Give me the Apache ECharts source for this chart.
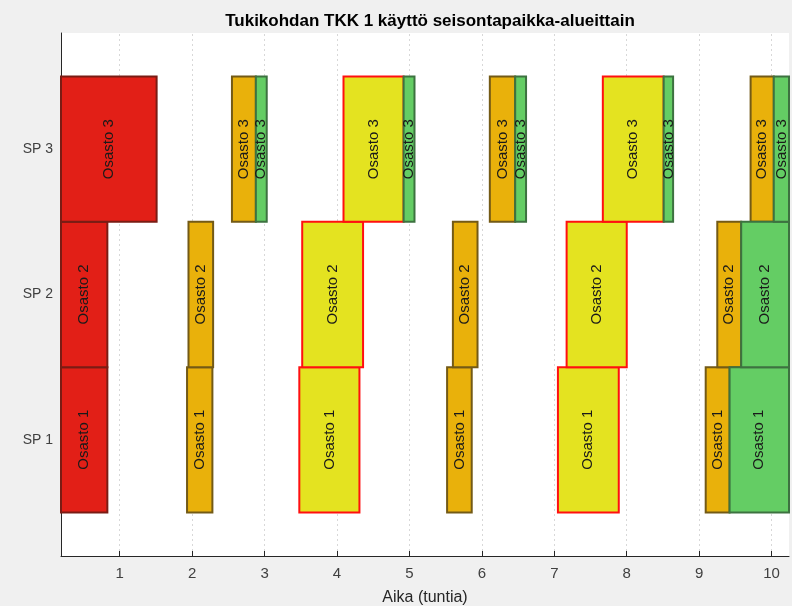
<!DOCTYPE html>
<html>
<head>
<meta charset="utf-8">
<script src="https://cdn.jsdelivr.net/npm/echarts@6/dist/echarts.min.js"></script>
<style>
  html, body { margin: 0; padding: 0; background: #f0f0f0; }
  #chart { width: 792px; height: 606px; }
</style>
</head>
<body>
<div id="chart"></div>
<script>
// Seisontapaikat (rivit) ja osastojen nimet
const rowLabels = ['SP 1', 'SP 2', 'SP 3'];
const sectionLabels = ['Osasto 1', 'Osasto 2', 'Osasto 3'];
const hourTicks = [1, 2, 3, 4, 5, 6, 7, 8, 9, 10];

// Varaukset: [seisontapaikka, alku (h), loppu (h)]
const punainen = [[1, 0.19, 0.83], [2, 0.19, 0.83], [3, 0.19, 1.51]];
const oranssi = [
  [1, 1.93, 2.28], [2, 1.95, 2.29], [3, 2.55, 2.88],
  [1, 5.52, 5.86], [2, 5.60, 5.94], [3, 6.11, 6.46],
  [1, 9.09, 9.42], [2, 9.25, 9.58], [3, 9.71, 10.03]
];
const keltainen = [
  [1, 3.48, 4.31], [2, 3.52, 4.36], [3, 4.09, 4.92],
  [1, 7.05, 7.89], [2, 7.17, 8.00], [3, 7.67, 8.51]
];
const vihrea = [
  [3, 2.88, 3.03], [3, 4.92, 5.07], [3, 6.46, 6.61], [3, 8.51, 8.64],
  [1, 9.42, 10.24], [2, 9.58, 10.24], [3, 10.03, 10.24]
];

const FONT = '"Liberation Sans", Arial, sans-serif';

function blockRenderer(fill, stroke, lineWidth) {
  return function (params, api) {
    const row = api.value(0);
    const start = api.value(1);
    const end = api.value(2);
    const p0 = api.coord([start, row + 0.5]);
    const p1 = api.coord([end, row - 0.5]);
    const w = p1[0] - p0[0];
    const h = p1[1] - p0[1];
    return {
      type: 'group',
      children: [
        {
          type: 'rect',
          shape: { x: p0[0], y: p0[1], width: w, height: h },
          style: { fill: fill, stroke: stroke, lineWidth: lineWidth }
        },
        {
          type: 'text',
          x: p0[0] + w / 2,
          y: p0[1] + h / 2,
          rotation: Math.PI / 2,
          style: {
            text: sectionLabels[row - 1],
            fill: '#1a1a1a',
            font: '15px ' + FONT,
            align: 'center',
            verticalAlign: 'middle'
          }
        }
      ]
    };
  };
}

function blockSeries(name, data, fill, stroke, lineWidth) {
  return {
    name: name,
    type: 'custom',
    z: 5,
    clip: false,
    renderItem: blockRenderer(fill, stroke, lineWidth),
    encode: { x: [1, 2], y: 0 },
    data: data
  };
}

const chart = echarts.init(document.getElementById('chart'), null, { renderer: 'canvas' });

chart.setOption({
  backgroundColor: '#f0f0f0',
  animation: false,
  title: {
    text: 'Tukikohdan TKK 1 käyttö seisontapaikka-alueittain',
    left: 425,
    top: 8,
    textAlign: 'center',
    textStyle: {
      fontFamily: FONT,
      fontSize: 17,
      fontWeight: 'bold',
      color: '#000'
    }
  },
  grid: {
    left: 61, right: 3, top: 33, bottom: 50,
    outerBoundsMode: 'none',
    containLabel: false,
    show: true, backgroundColor: '#fff', borderWidth: 0
  },
  xAxis: {
    type: 'value',
    min: 0.19,
    max: 10.24,
    name: 'Aika (tuntia)',
    nameLocation: 'middle',
    nameGap: 34,
    nameTextStyle: { fontFamily: FONT, fontSize: 16, color: '#262626' },
    axisLine: { lineStyle: { color: '#262626', width: 1 } },
    axisTick: { show: true, inside: true, length: 5, customValues: hourTicks, lineStyle: { color: '#262626' } },
    axisLabel: {
      customValues: hourTicks,
      margin: 10,
      fontFamily: FONT,
      fontSize: 15,
      color: '#404040'
    },
    splitLine: { show: false }
  },
  yAxis: {
    type: 'value',
    min: 0.2,
    max: 3.8,
    axisLine: { show: true, lineStyle: { color: '#262626', width: 1 } },
    axisTick: { show: true, inside: true, length: 5, customValues: [1, 2, 3], lineStyle: { color: '#262626' } },
    axisLabel: {
      customValues: [1, 2, 3],
      formatter: function (v) { return rowLabels[Math.round(v) - 1]; },
      margin: 8,
      fontFamily: FONT,
      fontSize: 14,
      color: '#404040'
    },
    splitLine: { show: false }
  },
  series: [
    {
      type: 'line',
      z: 0,
      data: [],
      silent: true,
      markLine: {
        silent: true,
        z: 0,
        symbol: ['none', 'none'],
        label: { show: false },
        lineStyle: { color: '#d8d8d8', type: [2, 3], width: 1 },
        data: hourTicks.map(function (h) { return { xAxis: h }; })
      }
    },
    blockSeries('Punainen', punainen, '#e21f17', '#7a1c14', 2),
    blockSeries('Oranssi', oranssi, '#e9b10b', '#735a16', 2),
    blockSeries('Keltainen', keltainen, '#e4e320', '#ff1010', 2),
    blockSeries('Vihreä', vihrea, '#64cd64', '#3d7240', 2)
  ]
});
</script>
</body>
</html>
